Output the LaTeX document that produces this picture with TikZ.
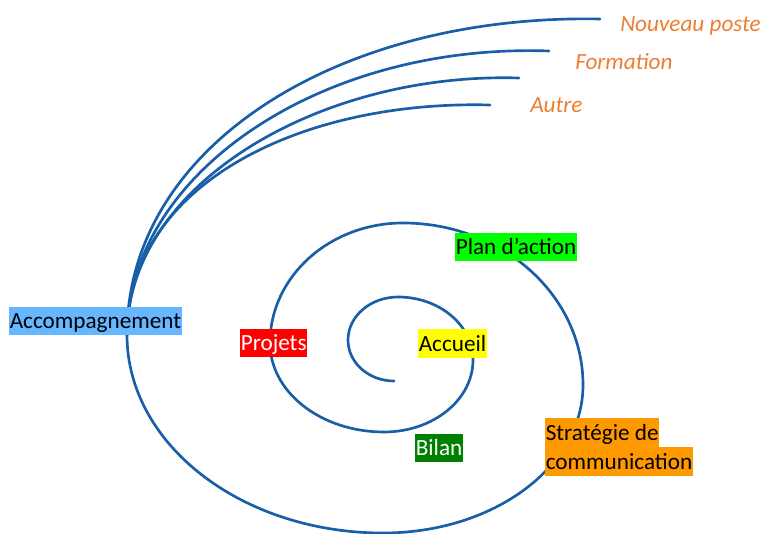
\documentclass[tikz,border=0pt]{standalone}
\usepackage{fontspec}
\setmainfont{Carlito}
\usepackage{xcolor}
\usepackage{tikz}
\definecolor{spiralblue}{RGB}{25, 94, 168}
\definecolor{skyblue}{RGB}{102, 183, 255}
\definecolor{brightred}{RGB}{255, 0, 0}
\definecolor{brightyellow}{RGB}{255, 255, 0}
\definecolor{brightgreen}{RGB}{0, 255, 0}
\definecolor{darkgreen}{RGB}{0, 128, 0}
\definecolor{brightorange}{RGB}{255, 153, 0}
\definecolor{textorange}{RGB}{237, 125, 49}
\usetikzlibrary{positioning}

\begin{document}
\begin{tikzpicture}[
    x=0.75pt, y=0.75pt,
    tag/.style={
        rectangle,
        anchor=west,
        inner xsep=0.4pt,
        inner ysep=0pt,
        text height=16.56pt,
        text depth=4.68pt,
        font=\fontsize{17.4}{21}\selectfont
    },
    goal/.style={
        anchor=base west,
        inner sep=0pt,
        text=textorange,
        font=\fontsize{17.4}{21}\selectfont\itshape
    },
    curve/.style={draw=spiralblue, line width=2pt, line cap=round}
]
    \useasboundingbox (0,0) rectangle (762,534);
    % Spiral
    \coordinate (core) at (394,153);
    \coordinate (split) at (127,199);
    \draw[curve] (core)
        arc[start angle=-90, end angle=-180, x radius=46, y radius=41]
        arc[start angle=180, end angle=90, x radius=50, y radius=43]
        arc[start angle=90, end angle=0, x radius=75, y radius=63]
        arc[start angle=0, end angle=-90, x radius=89, y radius=72]
        arc[start angle=-90, end angle=-180, x radius=114, y radius=89]
        arc[start angle=180, end angle=90, x radius=133, y radius=120]
        arc[start angle=90, end angle=0, x radius=180, y radius=162]
        arc[start angle=0, end angle=-90, x radius=200, y radius=148]
        arc[start angle=-90, end angle=-180, x radius=256, y radius=198];

    % Branches
    \coordinate (endnouveau) at (600,515);
    \coordinate (endformation) at (549,483);
    \coordinate (endautre) at (519,456);
    \coordinate (endautreb) at (490,429);
    \draw[curve] (split) .. controls +(0,190) and +(-260,5) .. (endnouveau);
    \draw[curve] (split) .. controls +(0,160) and +(-230,8) .. (endformation);
    \draw[curve] (split) .. controls +(0,150) and +(-200,6) .. (endautre);
    \draw[curve] (split) .. controls +(0,150) and +(-190,5) .. (endautreb);

    % Steps
    \node[tag, fill=skyblue] (accomp) at (9,213) {Accompagnement};
    \node[tag, fill=brightred, text=white] (projets) at (240,191) {Projets};
    \node[tag, fill=brightyellow] (accueil) at (418,190.5) {Accueil};
    \node[tag, fill=brightgreen] (plan) at (455,287) {Plan d’action};
    \node[tag, fill=darkgreen, text=white] (bilan) at (415,86) {Bilan};
    \node[tag, fill=brightorange] (strat) at (545,101.5) {Stratégie de};
    \node[tag, fill=brightorange, below=0pt of strat.south west, anchor=north west] (comm) {communication};

    % Labels
    \node[goal] (nouveau) at (620,502) {Nouveau poste};
    \node[goal] (formation) at (575,464) {Formation};
    \node[goal] (autre) at (530,421) {Autre};
\end{tikzpicture}
\end{document}
